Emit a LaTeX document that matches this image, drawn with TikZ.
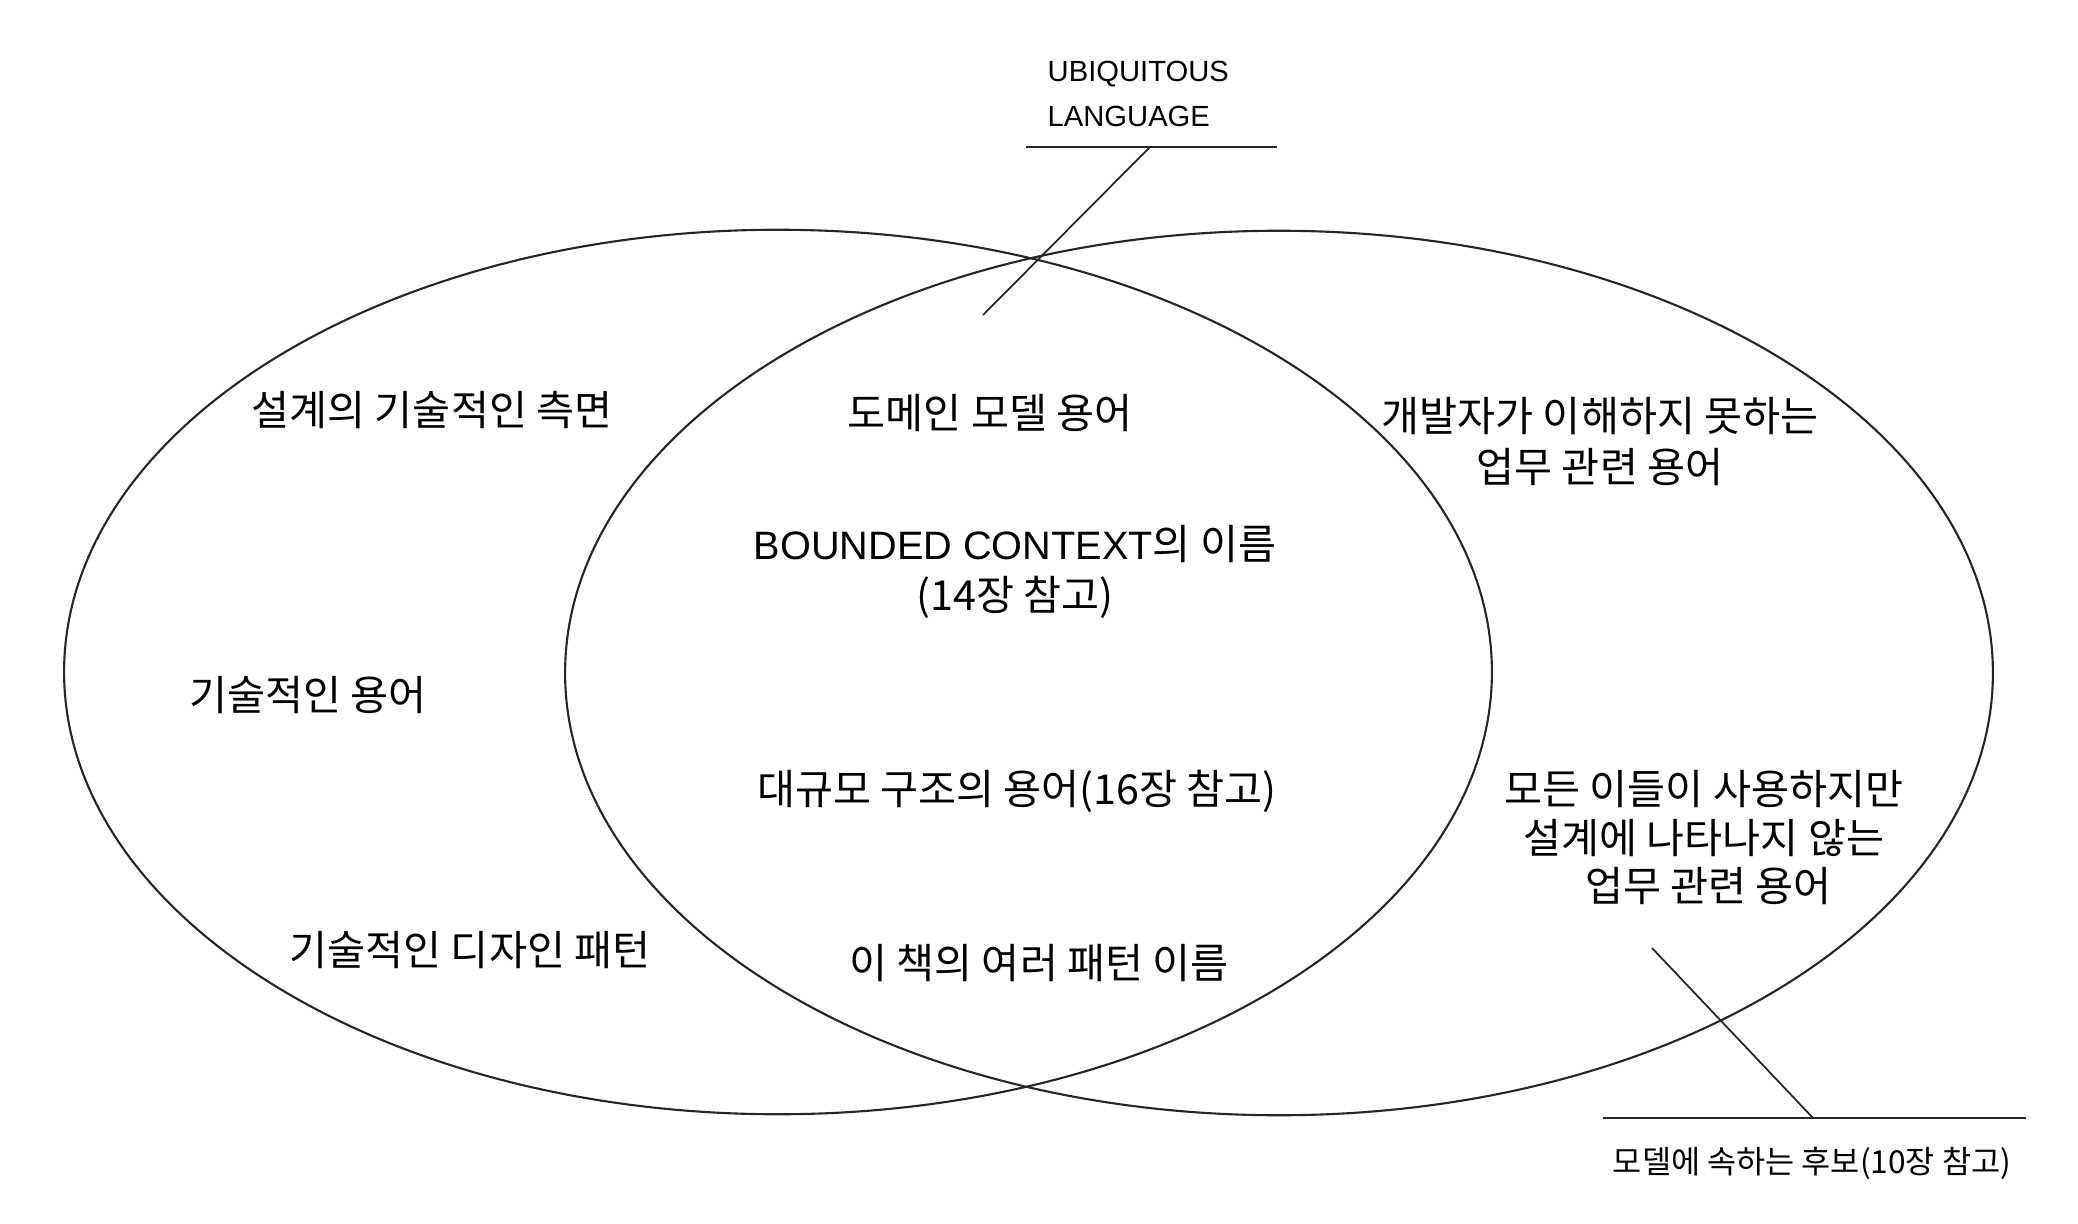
\documentclass[tikz,border=0pt]{standalone}
\usepackage{fontspec}
\setmainfont{Noto Sans CJK KR}
\newfontfamily\lat[Scale=0.96]{Liberation Sans}
\newfontfamily\latsmall{Liberation Sans}
\usetikzlibrary{shapes.geometric}

\begin{document}
\begin{tikzpicture}[
  x=0.01cm, y=-0.01cm,
  ring/.style={draw=black!85, ellipse, line width=0.6pt, inner sep=0pt,
    minimum width=14.27cm, minimum height=8.84cm},
  term/.style={font=\fontsize{11.75}{14.5}\selectfont, align=center, inner sep=1pt},
  note/.style={font=\fontsize{9}{12.8}\selectfont, inner sep=0pt},
  leader/.style={draw=black!85, line width=0.5pt}
]
\useasboundingbox (0,0) rectangle (2078,1224);

% Ellipses
\node[ring] (design) at (778,672) {};
\node[ring] (business) at (1279,673) {};

% Terms (left part)
\node[term] (aspect) at (432,410) {설계의 기술적인 측면};
\node[term] (techterm) at (308,695) {기술적인 용어};
\node[term] (techpat) at (470,950) {기술적인 디자인 패턴};

% Terms (common part)
\node[term] (domain) at (990,413) {도메인 모델 용어};
\node[term] (bcname) at (1015,572) {{\lat BOUNDED CONTEXT}의 이름\\(14장 참고)};
\node[term] (large) at (1017,791) {대규모 구조의 용어(16장 참고)};
\node[term] (patname) at (1039,963) {이 책의 여러 패턴 이름};

% Terms (right part)
\node[term] (unknown) at (1600,442) {개발자가 이해하지 못하는\\업무 관련 용어};
\node[term, font=\fontsize{11.75}{13.8}\selectfont] (hidden) at (1704,838)
  {모든 이들이 사용하지만\\설계에 나타나지 않는\\\ 업무 관련 용어};

% Callouts
\node[note, font=\latsmall\fontsize{8.3}{12.8}\selectfont, align=left, anchor=north west]
  (ul) at (1047,60) {UBIQUITOUS\\LANGUAGE};
\coordinate (ul-a) at (1026,147);
\coordinate (ul-b) at (1277,147);
\coordinate (ul-tip) at (1150,147);
\coordinate (ul-end) at (983,315);
\draw[leader] (ul-a) -- (ul-b);
\draw[leader] (ul-tip) -- (ul-end);

\node[note] (cand) at (1812,1163) {모델에 속하는 후보(10장 참고)};
\coordinate (cand-a) at (1603,1118);
\coordinate (cand-b) at (2026,1118);
\coordinate (cand-tip) at (1813,1118);
\coordinate (cand-end) at (1652,948);
\draw[leader] (cand-a) -- (cand-b);
\draw[leader] (cand-tip) -- (cand-end);

\end{tikzpicture}
\end{document}
